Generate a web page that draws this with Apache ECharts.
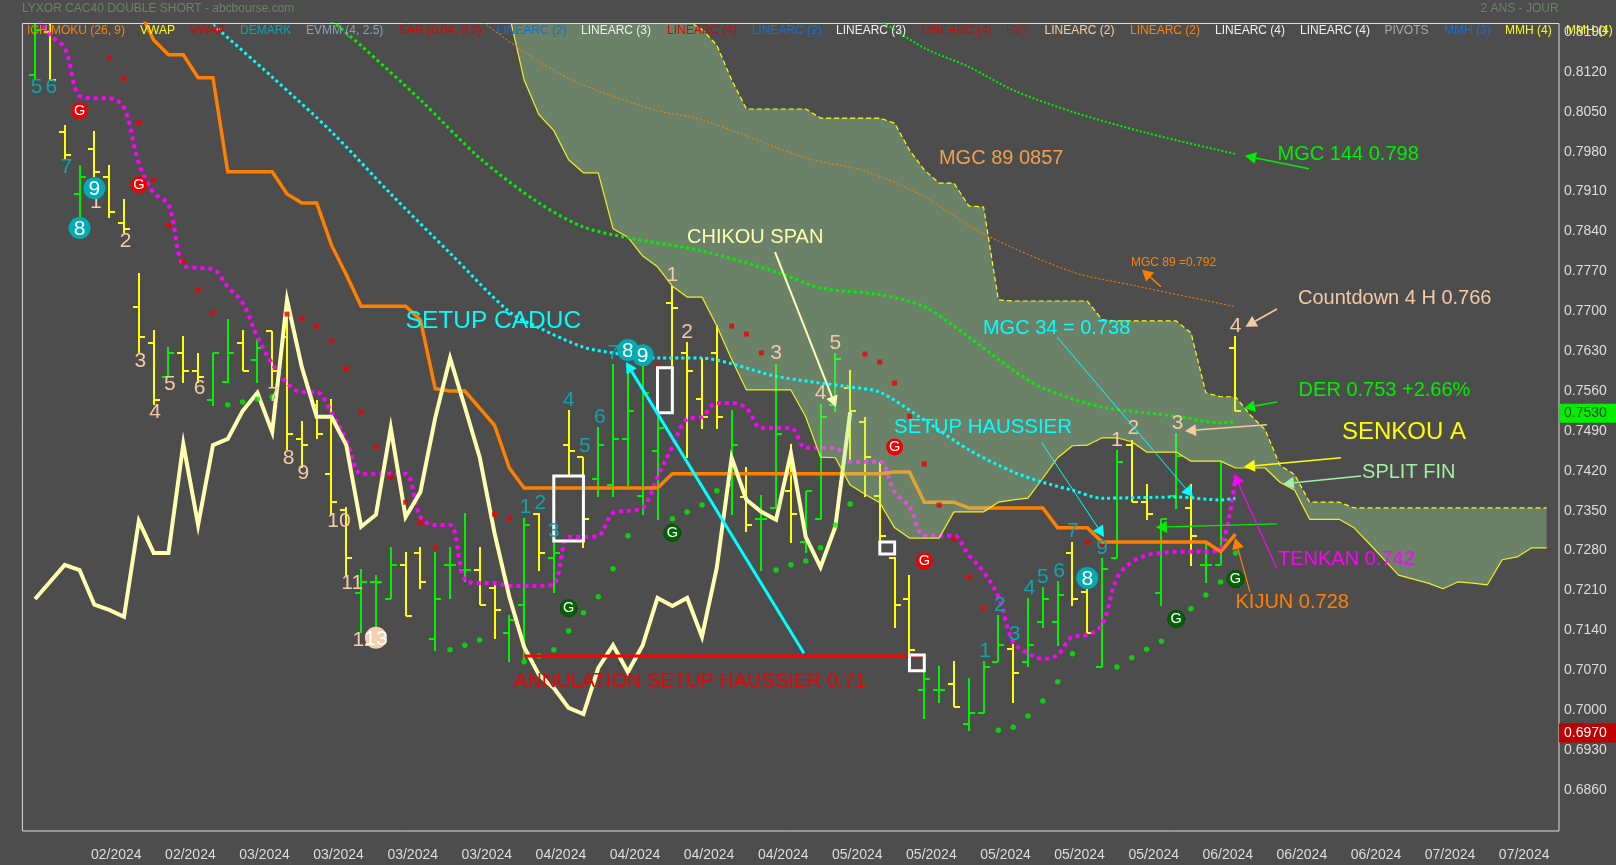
<!DOCTYPE html>
<html><head><meta charset="utf-8">
<style>html,body{margin:0;padding:0;background:#4d4d4d}#c{width:1616px;height:865px}</style>
<script src="https://cdn.jsdelivr.net/npm/echarts@6/dist/echarts.min.js"></script>
</head><body><div id="c"></div>
<script>
// All prices are in ten-thousandths (0.8120 -> 8120); bar index is the x value.
const dateLabels=['02/2024','02/2024','03/2024','03/2024','03/2024','03/2024','04/2024','04/2024','04/2024','04/2024','05/2024','05/2024','05/2024','05/2024','05/2024','06/2024','06/2024','06/2024','07/2024','07/2024'];
const yTickLabels=[6860,6930,7000,7070,7140,7210,7280,7350,7420,7490,7560,7630,7700,7770,7840,7910,7980,8050,8120,8190];
const opens=[8115,8190,8015,7906,7985,7936,7855,7708,7644,7585,7627,7595,7544,7576,7644,7615,7665,7655,7476,7536,7415,7351,7206,7225,7195,7255,7276,7125,7255,7246,7246,7214,7135,7185,7344,7267,7465,7444,7406,7395,7476,7376,7455,7715,7627,7546,7627,7395,7374,7336,7355,7385,7295,7336,7536,7565,7506,7376,7267,7195,7035,7035,7046,6976,6995,7085,7107,7085,7155,7155,7276,7207,7076,7267,7465,7365,7206,7376,7355,7255,7255,7636];
const highs=[8204,8204,8027,7957,8016,7957,7897,7767,7667,7637,7657,7627,7627,7687,7667,7651,7665,7711,7508,7544,7546,7357,7248,7237,7286,7278,7286,7278,7286,7346,7286,7225,7167,7337,7346,7295,7527,7444,7497,7608,7597,7609,7602,7744,7646,7618,7676,7527,7427,7378,7608,7467,7385,7537,7627,7597,7515,7436,7269,7237,7069,7078,7086,7057,7086,7167,7116,7197,7216,7227,7295,7213,7267,7457,7474,7397,7336,7486,7397,7293,7436,7657];
const lows=[8106,8106,7967,7864,7936,7864,7837,7627,7536,7585,7574,7574,7534,7574,7595,7574,7565,7457,7425,7476,7343,7234,7136,7144,7195,7165,7213,7104,7195,7225,7185,7125,7085,7088,7244,7206,7413,7285,7374,7374,7393,7343,7334,7604,7443,7494,7494,7343,7313,7244,7355,7293,7276,7336,7523,7436,7374,7297,7144,7099,6985,7013,7006,6963,6995,7085,7013,7076,7144,7113,7183,7135,7076,7267,7365,7334,7183,7353,7253,7223,7255,7525];
const closes=[8194,8106,7974,7936,7945,7874,7845,7655,7544,7627,7595,7585,7627,7627,7595,7636,7595,7485,7465,7485,7365,7267,7225,7225,7255,7165,7225,7195,7255,7246,7185,7176,7158,7325,7276,7276,7455,7336,7465,7476,7525,7557,7495,7706,7595,7515,7515,7465,7325,7336,7485,7344,7385,7515,7616,7525,7444,7306,7185,7106,7055,7035,7006,6995,7076,7114,7065,7114,7195,7202,7195,7135,7248,7436,7365,7344,7336,7446,7306,7255,7299,7525];
const chikou=[7195,7225,7255,7246,7185,7176,7164,7332,7276,7276,7467,7325,7465,7476,7525,7557,7488,7720,7602,7515,7515,7465,7322,7343,7495,7339,7383,7513,7618,7532,7444,7311,7199,7111,7062,7039,7004,6993,7074,7114,7067,7114,7197,7183,7197,7129,7250,7443,7369,7348,7334,7451,7304,7251,7322,7523];
const tenkan=[8225,8185,8162,8078,8074,8074,8057,7960,7908,7887,7781,7776,7774,7743,7715,7655,7608,7574,7558,7558,7522,7474,7415,7415,7415,7415,7339,7325,7325,7229,7223,7223,7218,7218,7218,7221,7304,7304,7306,7346,7350,7355,7409,7462,7511,7515,7539,7539,7530,7495,7495,7495,7460,7460,7460,7436,7436,7436,7383,7357,7306,7306,7306,7272,7243,7199,7120,7100,7090,7097,7129,7132,7150,7232,7260,7272,7276,7278,7278,7278,7285,7409];
const kijun=[null,null,null,null,null,null,null,8230,8176,8150,8150,8110,8110,7945,7945,7945,7945,7906,7890,7890,7816,7764,7709,7709,7709,7709,7685,7564,7560,7560,7530,7500,7425,7390,7390,7390,7390,7390,7390,7390,7390,7390,7390,7415,7415,7415,7415,7415,7415,7415,7415,7415,7415,7415,7415,7415,7415,7415,7418,7418,7365,7365,7365,7355,7355,7355,7355,7355,7355,7320,7320,7320,7295,7295,7295,7295,7295,7295,7295,7295,7278,7309];
const mgc34=[[12,8203],[16,8111],[20,8015],[24,7906],[28,7802],[32,7699],[34,7671],[37,7637],[39,7627],[42,7618],[45,7618],[47,7608],[50,7586],[55,7567],[57,7558],[60,7509],[63,7457],[66,7418],[68,7400],[70,7386],[72,7372],[77,7374],[80,7369],[81,7372]];
const mgc55=[[20,8210],[22,8166],[26,8071],[30,7969],[34,7890],[37,7848],[40,7829],[45,7806],[50,7769],[53,7741],[57,7729],[60,7708],[63,7655],[66,7597],[68,7565],[72,7532],[77,7516],[80,7504],[81,7506]];
const mgc144=[[57,8211],[60,8162],[63,8129],[66,8088],[70,8050],[75,8013],[81,7976]];
const mgc89=[[30,8211],[34,8138],[37,8097],[42,8052],[45,8036],[52,7969],[56,7946],[60,7901],[64,7836],[70,7769],[74,7746],[81,7708]];
const cloudStart=32;
const senkouB=[8300,8300,8300,8300,8300,8300,8300,8300,8300,8300,8300,8300,8210,8195,8167,8106,8055,8055,8055,8055,8055,8039,8039,8039,8039,8039,8030,7983,7948,7925,7925,7885,7883,7720,7718,7718,7718,7718,7718,7718,7685,7683,7683,7683,7683,7683,7662,7557,7550,7550,7518,7492,7430,7413,7365,7365,7365,7355,7355,7355,7355,7355,7355,7355,7355,7355,7355,7355,7355,7355,7355];
const senkouA=[8220,8106,8045,8017,7966,7943,7943,7845,7830,7797,7778,7744,7725,7725,7674,7616,7562,7562,7562,7562,7515,7444,7443,7395,7379,7364,7320,7302,7302,7302,7348,7348,7348,7365,7369,7372,7407,7443,7464,7465,7478,7478,7471,7453,7453,7453,7437,7437,7437,7425,7425,7425,7400,7386,7335,7335,7335,7320,7293,7265,7237,7230,7223,7213,7225,7223,7220,7264,7269,7285,7285];
const sarRed=[[5,8145],[6,8108],[7,8031],[8,7930],[9,7851],[10,7788],[11,7737],[12,7697],[17,7695],[18,7687],[19,7674],[20,7648],[21,7599],[22,7523],[23,7462],[24,7409],[25,7365],[26,7329],[27,7285],[31,7344],[32,7336],[41,7616],[42,7604],[47,7674],[48,7660],[49,7627],[56,7625],[57,7611],[58,7574],[59,7516],[60,7432],[61,7360],[62,7300],[63,7234],[64,7179],[71,7295],[72,7286]];
const sarGreen=[[13,7536],[14,7541],[15,7546],[16,7550],[28,7106],[29,7114],[30,7123],[33,7085],[34,7095],[35,7106],[36,7139],[37,7171],[38,7199],[39,7248],[40,7306],[43,7336],[44,7348],[45,7360],[46,7385],[50,7246],[51,7255],[52,7262],[53,7285],[54,7325],[55,7362],[65,6965],[66,6970],[67,6990],[68,7016],[69,7050],[70,7099],[73,7076],[74,7092],[75,7107],[76,7121],[78,7178],[79,7202],[80,7225],[81,7276]];
const gRed=[[3,8052],[7,7922],[58,7462],[60,7262]];
const gGreen=[[36,7179],[43,7311],[77,7160],[81,7230]];
const demarkTeal=[['5',0.1,8094],['6',1.1,8094],['7',2.1,7953],['1',33.1,7357],['2',34.1,7364],['3',35,7314],['4',36,7544],['5',37.1,7464],['6',38.1,7515],['7',39,7627],['1',64.1,7104],['2',65.1,7185],['3',66.1,7134],['4',67.1,7214],['5',68,7234],['6',69.1,7244],['7',70,7314],['9',72,7285]];
const demarkPeach=[['1',4.1,7892],['2',6.1,7823],['3',7.1,7613],['4',8.1,7523],['5',9.1,7572],['6',11.1,7565],['7',16.1,7553],['8',17.1,7443],['9',18.1,7415],['10',20.5,7332],['11',21.4,7223],['12',22.2,7123],['1',43,7764],['2',44,7664],['3',50,7627],['4',53,7557],['5',54,7644],['1',73,7474],['2',74.1,7495],['3',77.1,7504],['4',81,7674]];
const circledTeal=[['9',4,7916],['8',3,7846],['8',40,7632],['9',41,7623],['8',71,7232]];
const circledPeach=[['13',23,7127]];
const whiteBoxes=[[35,37,7411,7297],[42,43,7601,7522],[57,58,7295,7274],[59,60,7097,7069]];
const invalidation=[[33,7095],[60,7095]];
const arrows=[[49.93,7804,54.04,7532,'#ffffb0',2],[51.88,7100,39.87,7611,'#00ffff',3],[85.96,7950,81.64,7973,'#00ee00',1.5],[75.97,7743,74.69,7773,'#ff8000',1.5],[83.8,7704,81.68,7673,'#f5cba7',1.5],[83.8,7541,81.57,7530,'#00ee00',1.5],[83.12,7501,77.59,7490,'#f5cba7',1.5],[88.12,7443,81.57,7427,'#ffff00',1.5],[89.47,7411,84.2,7397,'#a0f0a0',1.5],[68.96,7655,78.13,7374,'#00ffff',1],[67.94,7469,72.13,7304,'#00ffff',1],[83.8,7327,75.63,7321,'#00ee00',1.2],[83.8,7248,80.9,7415,'#ff00ff',1.2],[81.98,7207,80.97,7302,'#ff8000',1.2]];
const notes=[['SETUP CADUC',25,7683,'#00ffff',24.5],['MGC 89 0857',60.99,7969,'#f0a050',20],['CHIKOU SPAN',43.99,7830,'#ffffb0',20],['MGC 144 0.798',83.84,7975,'#00ee00',20],['MGC 89 =0.792',73.95,7785,'#ff8000',12],['Countdown 4 H 0.766',85.22,7722,'#f5cba7',20],['MGC 34 = 0.738',63.96,7670,'#00ffff',20],['DER 0.753 +2.66%',85.26,7561,'#00ee00',20],['SETUP HAUSSIER',57.96,7497,'#00ffff',20.4],['SENKOU A',88.18,7488,'#ffff00',24],['SPLIT FIN',89.54,7418,'#a0f0a0',20],['TENKAN 0.742',83.87,7265,'#ff00ff',20],['KIJUN 0.728',81,7189,'#ff8000',20],['ANNULATION SETUP HAUSSIER 0.71',32.32,7051,'#ee0000',20]];
const priceTags=[['0.7530',7521,'#00ee00','#2b4a2b'],['0.6970',6960,'#c00000','#ffffff']];
const legendItems=[['ICHIMOKU (26, 9)',27,'#ff8000'],['VWAP',140,'#ffff00'],['VWAP',190,'#e00000'],['DEMARK',240,'#00a8b0'],['EVMM (4, 2.5)',306,'#8aa0b8'],['SAR (0.04, 0.2)',399,'#e00000'],['LINEARC (2)',496.6,'#1070e0'],['LINEARC (3)',581,'#eeeeee'],['LINEARC (4)',667,'#e00000'],['LINEARC (2)',751.7,'#1070e0'],['LINEARC (3)',836,'#eeeeee'],['LINEARC (4)',921.6,'#e00000'],['EVT',1006,'#e00000'],['LINEARC (2)',1044.5,'#f5cba7'],['LINEARC (2)',1130,'#ff8000'],['LINEARC (4)',1215,'#eeeeee'],['LINEARC (4)',1300,'#eeeeee'],['PIVOTS',1384.5,'#aaaaaa'],['MMH (3)',1444,'#1070e0'],['MMH (4)',1505,'#ffff00'],['MMH (4)',1566,'#ffff00']];

const FONT='"Liberation Sans",Arial,sans-serif';
const P=v=>v==null?null:v/1e4;
const pairs=a=>a.map(d=>[d[0],P(d[1])]);
const seq=(a,s=0)=>a.map((v,i)=>[i+s,P(v)]);
const xTicks=dateLabels.map((_,k)=>5.48+5*k);
const custom=(data,renderItem,z,extra)=>Object.assign({type:'custom',coordinateSystem:'cartesian2d',data:data.map((_,k)=>[k]),renderItem,z,clip:true,silent:true},extra||{});
const lineS=(data,color,width,z,extra)=>Object.assign({type:'line',data,symbol:'none',z,silent:true,lineStyle:Object.assign({color,width},(extra||{}).ls||{})},(extra||{}).opt||{});
const txt=(s,x,y,fill,size,align)=>({type:'text',style:{text:s,x,y,fill,font:size+'px '+FONT,align:align||'center',verticalAlign:'middle'}});

function renderBars(params,api){
  const i=params.dataIndex;
  const x=Math.round(api.coord([i,0])[0]);
  const Y=v=>Math.round(api.coord([0,P(v)])[1]);
  const col=closes[i]>=opens[i]?'#00f000':'#ffff00';
  const st={stroke:col,lineWidth:2,fill:null};
  return {type:'group',children:[
    {type:'line',shape:{x1:x,y1:Y(highs[i]),x2:x,y2:Y(lows[i])},style:st},
    {type:'line',shape:{x1:x-6,y1:Y(opens[i]),x2:x,y2:Y(opens[i])},style:st},
    {type:'line',shape:{x1:x,y1:Y(closes[i]),x2:x+6,y2:Y(closes[i])},style:st}]};
}
function renderCloud(params,api){
  const pts=[];
  senkouB.forEach((v,k)=>pts.push(api.coord([k+cloudStart,P(v)])));
  for(let k=senkouA.length-1;k>=0;k--)pts.push(api.coord([k+cloudStart,P(senkouA[k])]));
  return {type:'polygon',shape:{points:pts},style:{fill:'rgba(163,228,154,0.35)'}};
}
function renderBox(params,api){
  const b=whiteBoxes[params.dataIndex];
  const a=api.coord([b[0],P(b[2])]),c=api.coord([b[1],P(b[3])]);
  return {type:'rect',shape:{x:a[0],y:a[1],width:c[0]-a[0],height:c[1]-a[1]},style:{stroke:'#ffffff',lineWidth:3,fill:null}};
}
function renderArrow(params,api){
  const r=arrows[params.dataIndex];
  const a=api.coord([r[0],P(r[1])]),b=api.coord([r[2],P(r[3])]);
  const dx=b[0]-a[0],dy=b[1]-a[1],L=Math.hypot(dx,dy),ux=dx/L,uy=dy/L,h=11,w=6;
  const bx=b[0]-ux*h,by=b[1]-uy*h;
  return {type:'group',children:[
    {type:'line',shape:{x1:a[0],y1:a[1],x2:bx,y2:by},style:{stroke:r[4],lineWidth:r[5]}},
    {type:'polygon',shape:{points:[[b[0],b[1]],[bx-uy*w,by+ux*w],[bx+uy*w,by-ux*w]]},style:{fill:r[4]}}]};
}
function renderNote(params,api){
  const n=notes[params.dataIndex];const c=api.coord([n[1],P(n[2])]);
  return txt(n[0],c[0],c[1],n[3],n[4],'left');
}
const digitRenderer=(table,color)=>(params,api)=>{
  const d=table[params.dataIndex];const c=api.coord([d[1],P(d[2])]);
  return txt(d[0],c[0],c[1],color,21);
};
const circleRenderer=(table,color)=>(params,api)=>{
  const d=table[params.dataIndex];const c=api.coord([d[1],P(d[2])]);
  return {type:'group',children:[
    {type:'circle',shape:{cx:c[0],cy:c[1],r:11},style:{fill:color}},
    txt(d[0],c[0],c[1]+1,'#ffffff',21)]};
};
const gRenderer=(table,fill)=>(params,api)=>{
  const d=table[params.dataIndex];const c=api.coord([d[0],P(d[1])]);
  return {type:'group',children:[
    {type:'circle',shape:{cx:c[0],cy:c[1],r:8.5},style:{fill,stroke:fill==='#ee0000'?null:'#003c00',lineWidth:1,lineDash:[2,1]}},
    txt('G',c[0],c[1],'#ffffff',14.5)]};
};
function renderTag(params,api){
  const t=priceTags[params.dataIndex];
  const c=api.coord([102.83,P(t[1])]);
  return {type:'group',children:[
    {type:'rect',shape:{x:c[0],y:c[1]-9.5,width:57,height:19},style:{fill:t[2]}},
    txt(t[0],c[0]+5,c[1],t[3],14,'left')]};
}

const chart=echarts.init(document.getElementById('c'),null,{renderer:'canvas'});
chart.setOption({
  animation:false,
  backgroundColor:'#4d4d4d',
  grid:{left:22.4,right:57,top:23.5,bottom:34,show:true,borderColor:'#dddddd',borderWidth:1,backgroundColor:'transparent'},
  xAxis:{type:'value',min:-0.857,max:102.83,splitLine:{show:false},axisLine:{show:false},axisTick:{show:false},
    axisLabel:{color:'#dddddd',fontFamily:FONT,fontSize:14,margin:17,customValues:xTicks,
      formatter:v=>{const k=Math.round((v-5.48)/5);return dateLabels[k]||'';}}},
  yAxis:{type:'value',position:'right',min:0.6788,max:0.8205,splitLine:{show:false},axisLine:{show:false},axisTick:{show:false},
    axisLabel:{color:'#dddddd',fontFamily:FONT,fontSize:14,margin:5,customValues:yTickLabels.map(P),formatter:v=>v.toFixed(4)}},
  graphic:[
    {type:'text',left:22,top:3,z:50,style:{text:'LYXOR CAC40 DOUBLE SHORT - abcbourse.com',fill:'#70806c',font:'12px '+FONT}},
    {type:'text',left:1480.6,top:3,z:50,style:{text:'2 ANS - JOUR',fill:'#70806c',font:'12px '+FONT}}
  ].concat(legendItems.map(l=>({type:'text',left:l[1],top:25,z:50,style:{text:l[0],fill:l[2],font:'12px '+FONT}}))),
  series:[
    custom(opens,renderBars,2),
    lineS(seq(tenkan),'#ff00ff',4,3,{ls:{type:[4,4]},opt:{smooth:0.35}}),
    lineS(seq(kijun),'#ff8000',3.5,4,{ls:{join:'miter',miterLimit:8}}),
    lineS(seq(chikou),'#ffffb0',4,6,{ls:{join:'miter',miterLimit:12}}),
    custom([0],renderCloud,7),
    lineS(seq(senkouB,cloudStart),'#ffff00',1.2,8,{ls:{type:[5,3]}}),
    lineS(seq(senkouA,cloudStart),'#f0f020',1.2,8),
    {type:'scatter',data:pairs(sarRed),symbol:'rect',symbolSize:5,itemStyle:{color:'#ee0000'},z:8,silent:true},
    {type:'scatter',data:pairs(sarGreen),symbol:'circle',symbolSize:5.5,itemStyle:{color:'#00ee00'},z:8,silent:true},
    lineS(pairs(mgc89),'#ff8000',1,9,{ls:{type:[2,2]},opt:{smooth:0.3}}),
    lineS(pairs(mgc144),'#00ee00',2,9,{ls:{type:[2,2]},opt:{smooth:0.3}}),
    lineS(pairs(mgc55),'#00f000',3,9,{ls:{type:[3,3]},opt:{smooth:0.3}}),
    lineS(pairs(mgc34),'#00ffff',3,9,{ls:{type:[3,3]},opt:{smooth:0.3}}),
    lineS(pairs(invalidation),'#ff0000',3,10),
    custom(whiteBoxes,renderBox,11),
    custom(gRed,gRenderer(gRed,'#ee0000'),12),
    custom(gGreen,gRenderer(gGreen,'#006400'),12),
    custom(demarkTeal,digitRenderer(demarkTeal,'#10a5ad'),13),
    custom(demarkPeach,digitRenderer(demarkPeach,'#f5cba7'),13),
    custom(circledTeal,circleRenderer(circledTeal,'#00acb4'),14),
    custom(circledPeach,circleRenderer(circledPeach,'#f8cfae'),14),
    custom(arrows,renderArrow,15),
    custom(notes,renderNote,16,{clip:false}),
    custom(priceTags,renderTag,17,{clip:false})
  ]
});
</script></body></html>
